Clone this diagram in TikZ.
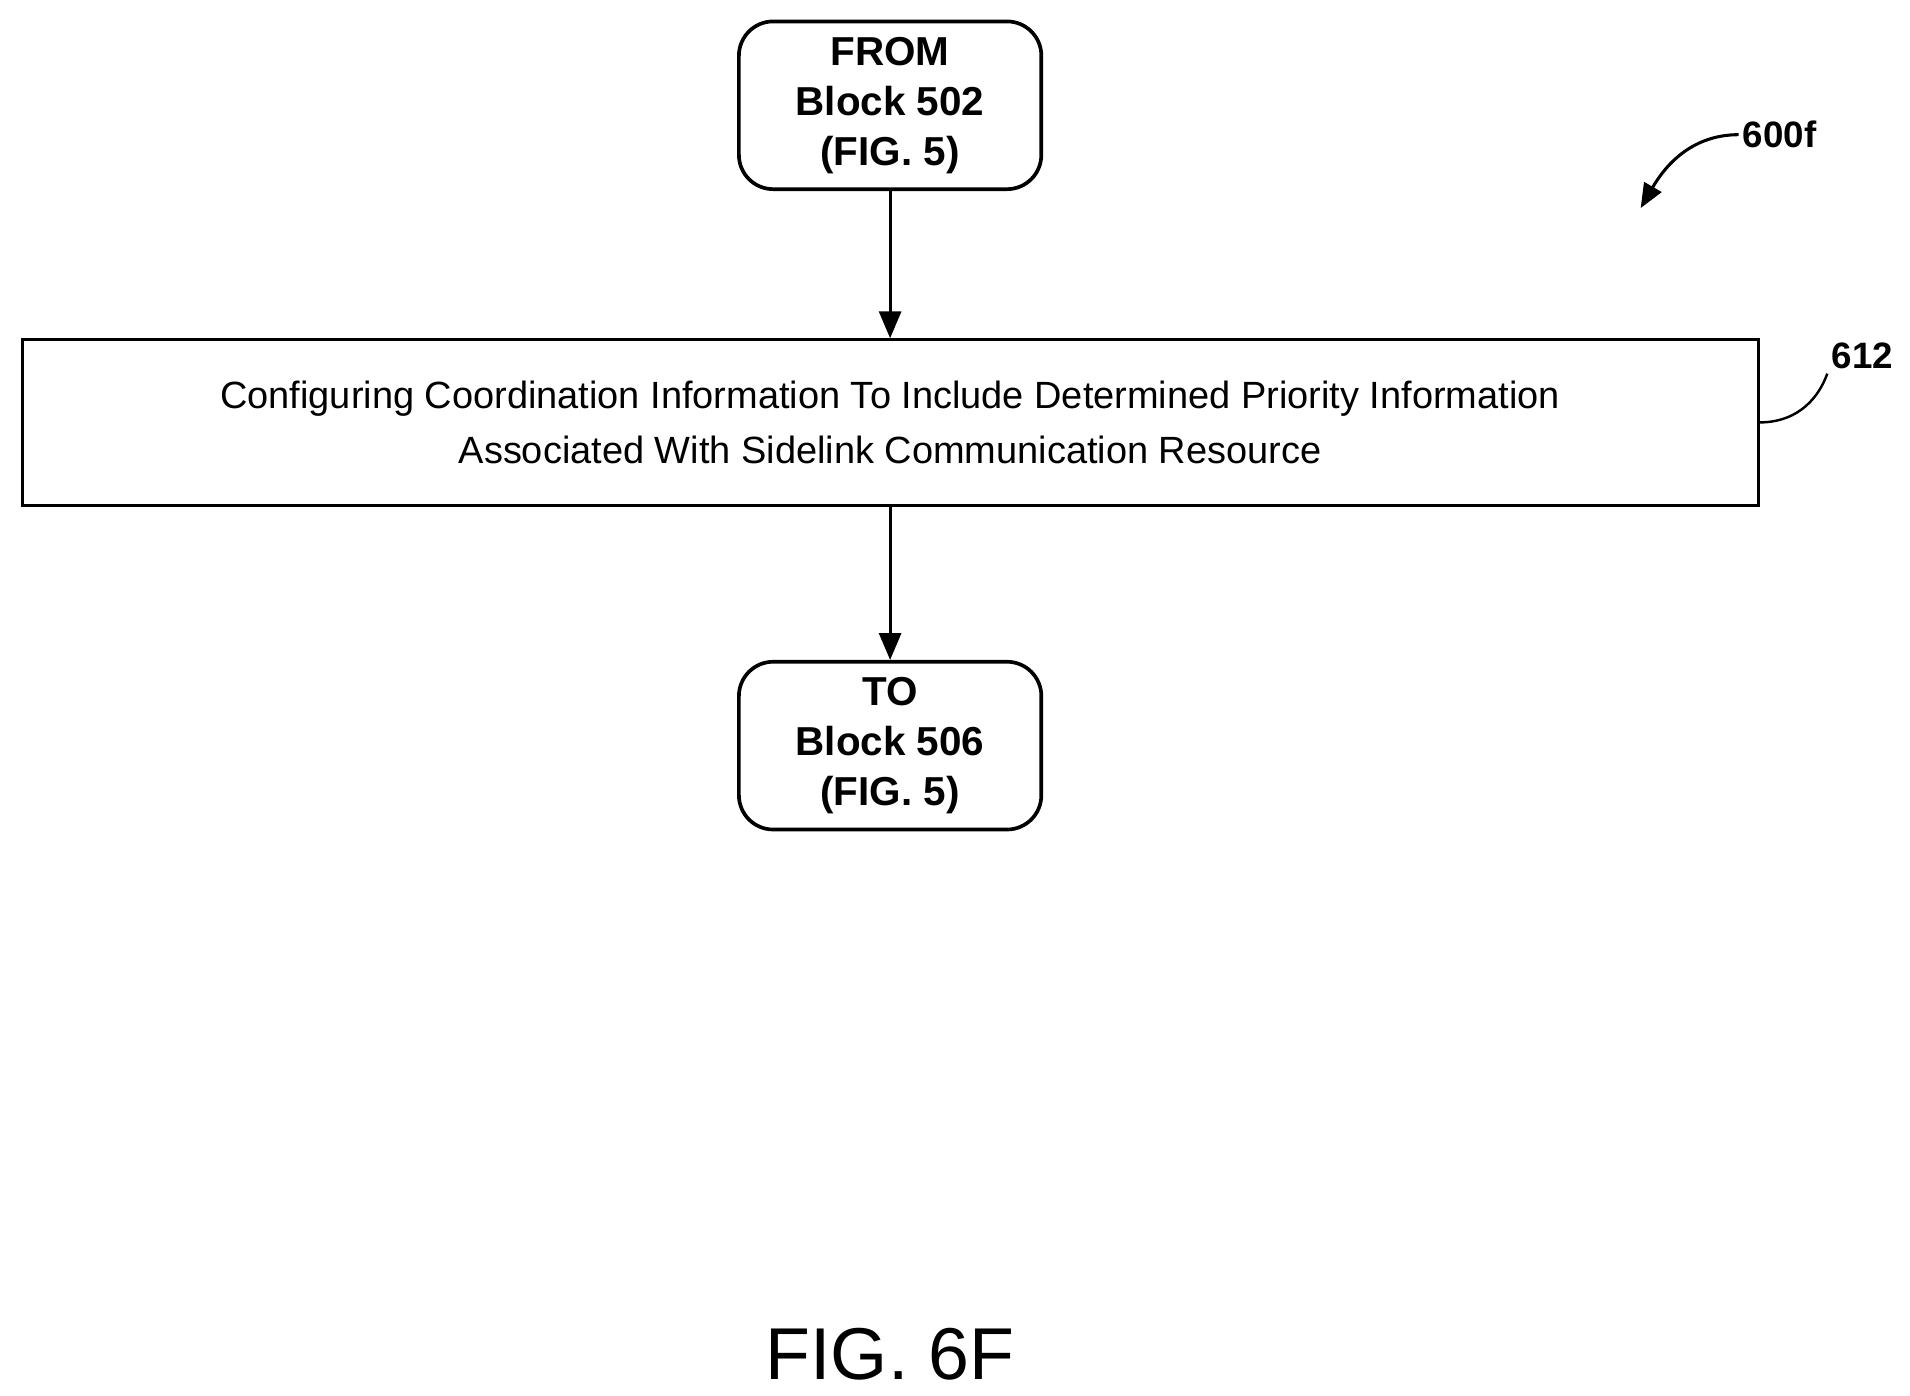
\documentclass[tikz,border=0pt]{standalone}
\usepackage{fontspec}
\setmainfont{Liberation Sans}
\usetikzlibrary{arrows.meta}
\begin{document}
\begin{tikzpicture}[x=1pt,y=-1pt,
  term/.style={draw,line width=3pt,rounded corners=28pt,minimum width=247pt,minimum height=137pt,align=center,font=\fontsize{33}{41}\selectfont\bfseries},
  proc/.style={draw,line width=2.5pt,minimum width=1418pt,minimum height=135pt,align=center,font=\fontsize{31}{45}\selectfont},
  arr/.style={line width=2.5pt,-{Triangle[length=22pt,width=18pt]}},
  lbl/.style={font=\fontsize{30}{36}\selectfont\bfseries}]
\useasboundingbox (0,0) rectangle (1560,1140);
\node[term] (from) at (727,86) {FROM\\Block 502\\(FIG. 5)};
\node[proc] (p) at (727,345) {Configuring Coordination Information To Include Determined Priority Information\\Associated With Sidelink Communication Resource};
\node[term] (to) at (727,609) {TO\\Block 506\\(FIG. 5)};
\draw[arr] (from) -- (p);
\draw[arr] (p) -- (to);
\node[lbl] (l612) at (1521,291) {612};
\draw[line width=2pt] (p.east|-0,345) to[out=0,in=-110] (l612.south west);
\node[lbl,anchor=west] (l600) at (1420,110) {600f};
\draw[line width=2.5pt,-{Triangle[length=20pt,width=16pt]}] (l600.west) to[out=180,in=60] (1340,170);
\node[font=\fontsize{60}{70}\selectfont] (fig) at (727,1106) {FIG. 6F};
\end{tikzpicture}
\end{document}
